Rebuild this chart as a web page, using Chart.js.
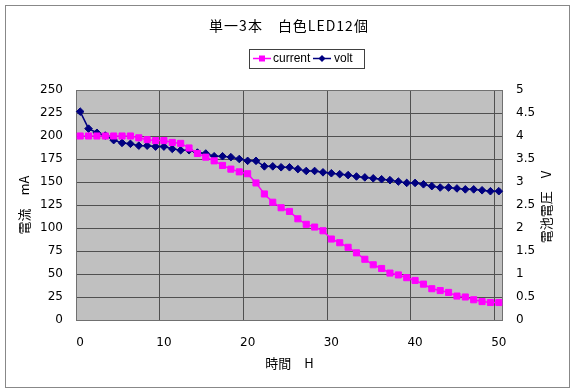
<!DOCTYPE html>
<html><head><meta charset="utf-8">
<script src="https://cdn.jsdelivr.net/npm/chart.js@4/dist/chart.umd.min.js"></script>
<style>html,body{margin:0;padding:0;background:#fff;}#wrap{width:575px;height:391px;}</style>
</head><body><div id="wrap"><canvas id="c" width="575" height="391"></canvas></div>
<script>
const hours = ['0','1','2','3','4','5','6','7','8','9','10','11','12','13','14','15','16','17','18','19','20','21','22','23','24','25','26','27','28','29','30','31','32','33','34','35','36','37','38','39','40','41','42','43','44','45','46','47','48','49','50'];
const currentMA = [200,200,200,200,200,200,200,198,196,195,195,193,192,187,181,177,173,168,164,161,159,149,137,128,122,118,110,104,101,97,88,84,79,73,66,60,56,51,49,46,43,39,34,32,30,26,25,22,20,19,19];
const voltV = [4.53,4.16,4.07,4.01,3.91,3.85,3.83,3.79,3.79,3.77,3.77,3.72,3.69,3.69,3.64,3.62,3.56,3.56,3.54,3.50,3.46,3.46,3.34,3.34,3.32,3.32,3.28,3.24,3.24,3.21,3.19,3.17,3.15,3.12,3.10,3.08,3.06,3.04,3.01,2.98,2.98,2.95,2.91,2.88,2.88,2.86,2.84,2.84,2.82,2.80,2.80];
const xLabelEvery = 10;
const chartTitle = '単一3本　白色LED12個';
const xTitle = '時間　H';
const yLeftTitle = '電流　mA';
const yRightTitle = '電池電圧　V';
const seriesNames = ['current','volt'];

const PINK = '#FF00FF', NAVY = '#000080', GRID = '#505050';
const CJK = '"Noto Sans CJK JP", "DejaVu Sans", sans-serif';
const NUM = '"DejaVu Sans", sans-serif';

const deco = {
  id: 'deco',
  beforeDraw(chart) {
    const {ctx, chartArea: a} = chart;
    ctx.save();
    ctx.fillStyle = '#fff';
    ctx.fillRect(0, 0, chart.width, chart.height);
    ctx.fillStyle = '#C0C0C0';
    ctx.fillRect(a.left, a.top, a.right - a.left, a.bottom - a.top);
    ctx.restore();
  },
  beforeDatasetsDraw(chart) {
    const {ctx, chartArea: a} = chart;
    ctx.save();
    ctx.strokeStyle = '#707070';
    ctx.lineWidth = 1;
    ctx.strokeRect(Math.round(a.left) + 0.5, Math.round(a.top) + 0.5, Math.round(a.right - a.left) - 1, Math.round(a.bottom - a.top));
    ctx.restore();
  },
  afterDraw(chart) {
    const {ctx, chartArea: a} = chart;
    ctx.save();
    ctx.strokeStyle = '#888';
    ctx.lineWidth = 1;
    ctx.strokeRect(5.5, 5.5, 564, 382);
    ctx.fillStyle = '#000';
    ctx.font = '14px ' + CJK;
    ctx.textAlign = 'center';
    ctx.textBaseline = 'middle';
    ctx.letterSpacing = '1px';
    ctx.fillText(chartTitle, 289, 26);
    ctx.letterSpacing = '0px';
    ctx.save();
    ctx.translate(546, (a.top + a.bottom) / 2 + 2);
    ctx.rotate(-Math.PI / 2);
    ctx.font = '13px ' + CJK;
    ctx.fillText(yRightTitle, 0, 0);
    ctx.restore();
    const ly = 58.5;
    ctx.strokeStyle = '#404040';
    ctx.strokeRect(249.5, 49.5, 115, 19);
    ctx.lineWidth = 1.5;
    ctx.strokeStyle = PINK;
    ctx.beginPath(); ctx.moveTo(253, ly); ctx.lineTo(271, ly); ctx.stroke();
    ctx.fillStyle = PINK;
    ctx.fillRect(259, ly - 3, 6, 6);
    ctx.strokeStyle = NAVY;
    ctx.beginPath(); ctx.moveTo(313, ly); ctx.lineTo(331, ly); ctx.stroke();
    ctx.fillStyle = NAVY;
    ctx.beginPath(); ctx.moveTo(322, ly - 3.5); ctx.lineTo(325.5, ly); ctx.lineTo(322, ly + 3.5); ctx.lineTo(318.5, ly); ctx.closePath(); ctx.fill();
    ctx.fillStyle = '#000';
    ctx.font = '12px "Liberation Sans", sans-serif';
    ctx.textAlign = 'left';
    ctx.fillText(seriesNames[0], 273, ly + 0.5);
    ctx.fillText(seriesNames[1], 334, ly + 0.5);
    ctx.restore();
  }
};

new Chart(document.getElementById('c'), {
  type: 'line',
  data: {
    labels: hours,
    datasets: [
      {label: seriesNames[0], data: currentMA, yAxisID: 'y', borderColor: PINK, backgroundColor: PINK,
       borderWidth: 1.5, pointStyle: 'rect', pointRadius: 4.3, pointBorderWidth: 1, tension: 0},
      {label: seriesNames[1], data: voltV, yAxisID: 'y1', borderColor: NAVY, backgroundColor: NAVY,
       borderWidth: 1.5, pointStyle: 'rectRot', pointRadius: 3.8, pointBorderWidth: 1, tension: 0}
    ]
  },
  options: {
    responsive: false,
    animation: false,
    devicePixelRatio: 1,
    layout: {padding: {top: 90, left: 0, right: 0, bottom: 0}},
    plugins: {legend: {display: false}, title: {display: false}, tooltip: {enabled: false}},
    scales: {
      x: {
        type: 'category', offset: true,
        grid: {offset: true, drawTicks: false, lineWidth: 1,
               color: c => (c.index % xLabelEvery === 0 ? GRID : 'rgba(0,0,0,0)')},
        border: {display: false},
        ticks: {autoSkip: false, maxRotation: 0, padding: 16, color: '#000', font: {family: NUM, size: 12},
                callback: (v, i) => (i % xLabelEvery === 0 ? hours[i] : '')},
        title: {display: true, text: xTitle, color: '#000', font: {family: CJK, size: 13}, padding: {top: 0, bottom: 20}},
        afterFit: s => { s.height = 71; }
      },
      y: {
        position: 'left', min: 0, max: 250,
        grid: {color: GRID, drawTicks: false},
        border: {display: false},
        ticks: {stepSize: 25, padding: 13, color: '#000', font: {family: NUM, size: 12}},
        title: {display: true, text: yLeftTitle, color: '#000', font: {family: CJK, size: 13}, padding: {top: 16, bottom: 0}},
        afterFit: s => { s.width = 76; }
      },
      y1: {
        position: 'right', min: 0, max: 5,
        grid: {display: false, drawTicks: false},
        border: {display: false},
        ticks: {stepSize: 0.5, padding: 13, color: '#000', font: {family: NUM, size: 12},
                callback: v => String(Math.round(v * 10) / 10)},
        title: {display: false},
        afterFit: s => { s.width = 72; }
      }
    }
  },
  plugins: [deco]
});
</script></body></html>
